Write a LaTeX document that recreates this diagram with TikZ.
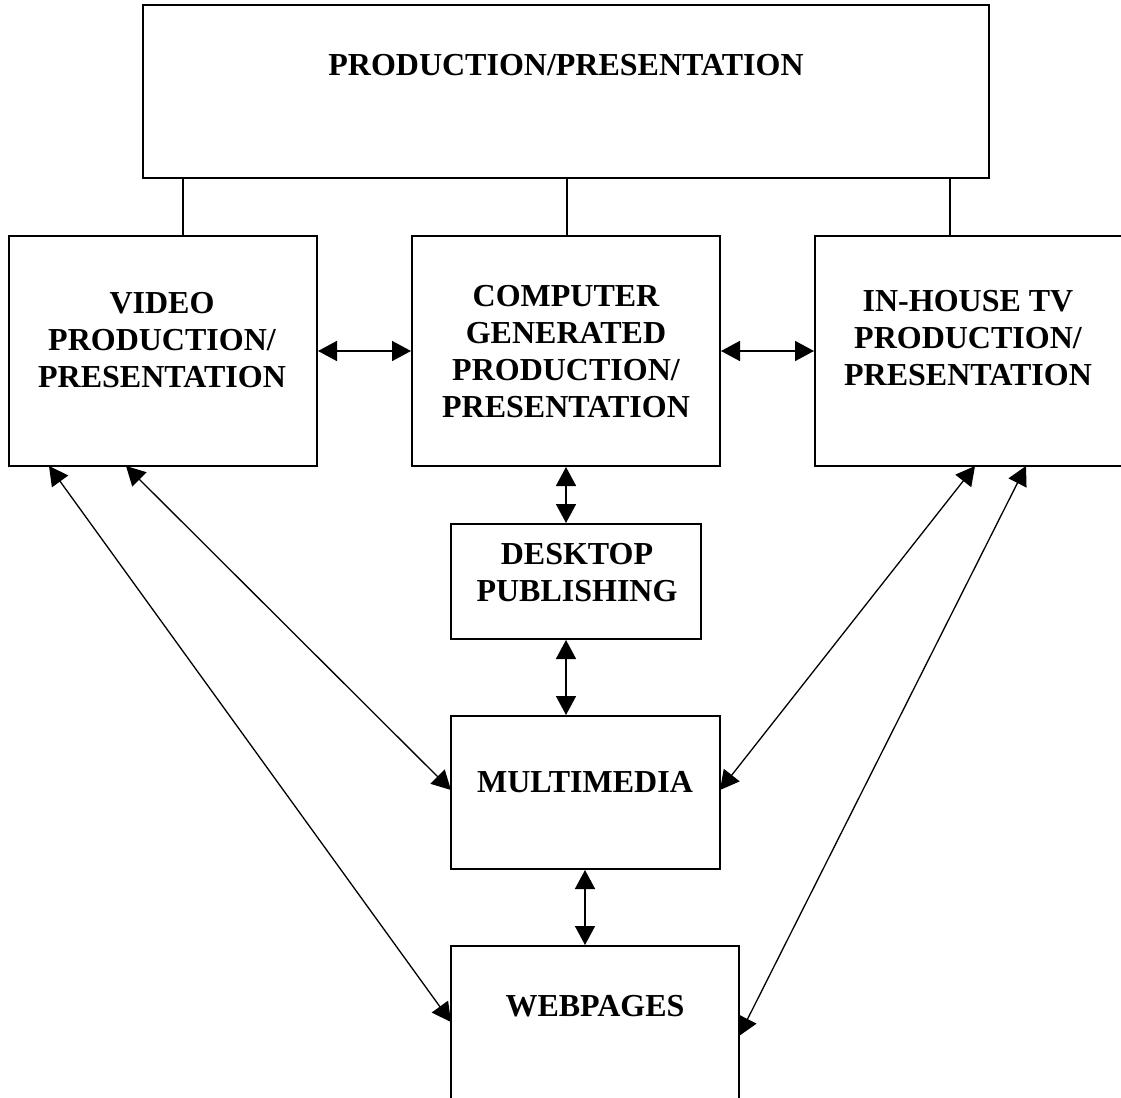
\documentclass[tikz,border=0pt]{standalone}
\usepackage{fontspec}
\setmainfont{Liberation Serif}
\usetikzlibrary{arrows.meta}
\begin{document}
\begin{tikzpicture}[x=1pt,y=-1pt,
  box/.style={draw,line width=2pt,inner sep=0pt},
  lbl/.style={font=\fontsize{32}{37}\selectfont\bfseries,align=center,inner sep=0pt},
  link/.style={line width=1.3pt},
  biarrow/.style={line width=1.6pt,{Triangle[length=19pt,width=20pt]}-{Triangle[length=19pt,width=20pt]}},
  diag/.style={biarrow,line width=1.3pt}
]
\useasboundingbox (0,0) rectangle (1121,1097);
\clip (0,0) rectangle (1121,1097);
% boxes
\node[box,minimum width=846pt,minimum height=173pt] (top) at (566,91.5) {};
\node[box,minimum width=308pt,minimum height=230pt] (vid) at (163,351) {};
\node[box,minimum width=308pt,minimum height=230pt] (cgp) at (566,351) {};
\node[box,minimum width=330pt,minimum height=230pt] (tv) at (980,351) {};
\node[box,minimum width=250pt,minimum height=115pt] (dtp) at (576,581.5) {};
\node[box,minimum width=269pt,minimum height=153pt] (mm) at (585.5,792.5) {};
\node[box,minimum width=288pt,minimum height=200pt] (web) at (595,1046) {};
% texts
\node[lbl] (ttop) at (566,65) {PRODUCTION/PRESENTATION};
\node[lbl] (tvid) at (162,340) {VIDEO\\PRODUCTION/\\PRESENTATION};
\node[lbl] (tcgp) at (566,351.5) {COMPUTER\\GENERATED\\PRODUCTION/\\PRESENTATION};
\node[lbl] (ttv) at (968,338) {IN-HOUSE TV\\PRODUCTION/\\PRESENTATION};
\node[lbl] (tdtp) at (577,572.5) {DESKTOP\\PUBLISHING};
\node[lbl] (tmm) at (585,782) {MULTIMEDIA};
\node[lbl] (tweb) at (595,1006) {WEBPAGES};
% links from top box
\draw[link] (top.south -| 183,0) -- (vid.north -| 183,0);
\draw[link] (top.south -| 567,0) -- (cgp.north -| 567,0);
\draw[link] (top.south -| 950,0) -- (tv.north -| 950,0);
% horizontal arrows
\draw[biarrow] (vid.east) -- (cgp.west);
\draw[biarrow] (cgp.east) -- (tv.west);
% vertical arrows
\draw[biarrow] (cgp.south -| 566,0) -- (dtp.north -| 566,0);
\draw[biarrow] (dtp.south -| 566,0) -- (mm.north -| 566,0);
\draw[biarrow] (mm.south -| 585,0) -- (web.north -| 585,0);
% diagonal arrows
\coordinate (a1) at (49,466);
\coordinate (a2) at (126,466);
\coordinate (a3) at (975,466);
\coordinate (a4) at (1026,466);
\coordinate (m1) at (451,790);
\coordinate (m2) at (720,790);
\coordinate (w1) at (451,1022);
\coordinate (w2) at (739,1036);
\draw[diag] (a1) -- (w1);
\draw[diag] (a2) -- (m1);
\draw[diag] (a3) -- (m2);
\draw[diag] (a4) -- (w2);
\end{tikzpicture}
\end{document}
